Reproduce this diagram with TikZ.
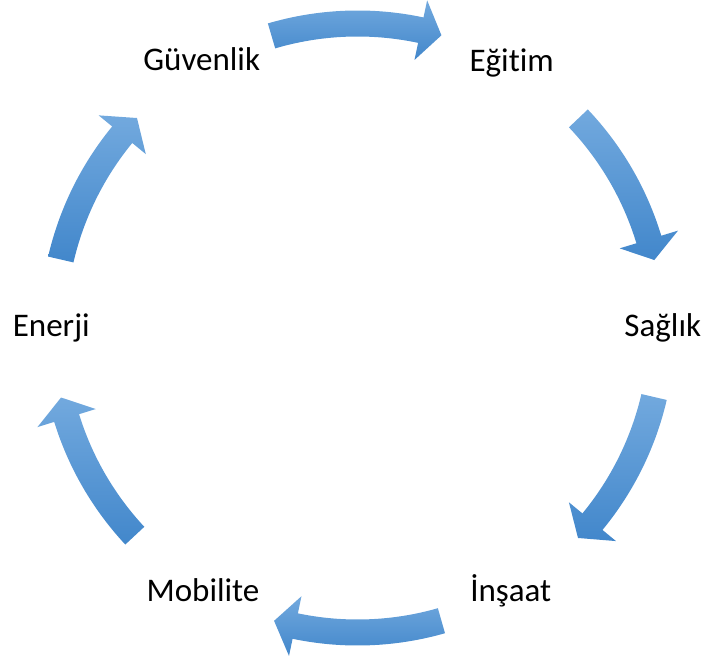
\documentclass[tikz,border=0pt]{standalone}
\usepackage{fontspec}
\setmainfont[Ligatures={NoCommon}]{Carlito}
\definecolor{arrtop}{RGB}{114,169,222}
\definecolor{arrbot}{RGB}{66,135,203}
\newcommand\arrRmid{304.5pt}
\newcommand\arrRout{317.5pt}
\newcommand\arrRin{291.5pt}
\newcommand\arrRbo{335pt}
\newcommand\arrRbi{274pt}
% tail angle, head base angle, tip angle
\newcommand\cyclearrow[3]{%
  \shade[arrowshade] ($(c)+(#1:\arrRout)$) arc[start angle=#1,end angle=#2,radius=\arrRout]
    -- ($(c)+(#2:\arrRbo)$) -- ($(c)+(#3:\arrRmid)$) -- ($(c)+(#2:\arrRbi)$)
    -- ($(c)+(#2:\arrRin)$) arc[start angle=#2,end angle=#1,radius=\arrRin] -- cycle;}
\usetikzlibrary{calc}
\begin{document}
\begin{tikzpicture}[
  lbl/.style={font=\fontsize{33pt}{39pt}\selectfont, text=black, inner sep=0pt, anchor=base},
  arrowshade/.style={top color=arrtop, bottom color=arrbot, draw=none}]
\useasboundingbox (-357.5pt,-338pt) rectangle (350.5pt,328pt);
\coordinate (c) at (0,0);
\node[lbl] (guv) at (-155.8pt,257.5pt) {Güvenlik};
\node[lbl] (egi) at (154.2pt,256.5pt) {Eğitim};
\node[lbl] (sag) at (305.3pt,-8.7pt) {Sağlık};
\node[lbl] (ins) at (153.3pt,-273.7pt) {İnşaat};
\node[lbl] (mob) at (-154.5pt,-273.7pt) {Mobilite};
\node[lbl] (ene) at (-306.2pt,-8.7pt) {Enerji};
\cyclearrow{106.4}{78}{74}
\cyclearrow{43.5}{16.9}{12.9}
\cyclearrow{-13.1}{-39.5}{-43.6}
\cyclearrow{-74}{-101.8}{-105.9}
\cyclearrow{-137}{-162.8}{-166.8}
\cyclearrow{167}{140.6}{136.4}
\end{tikzpicture}
\end{document}
